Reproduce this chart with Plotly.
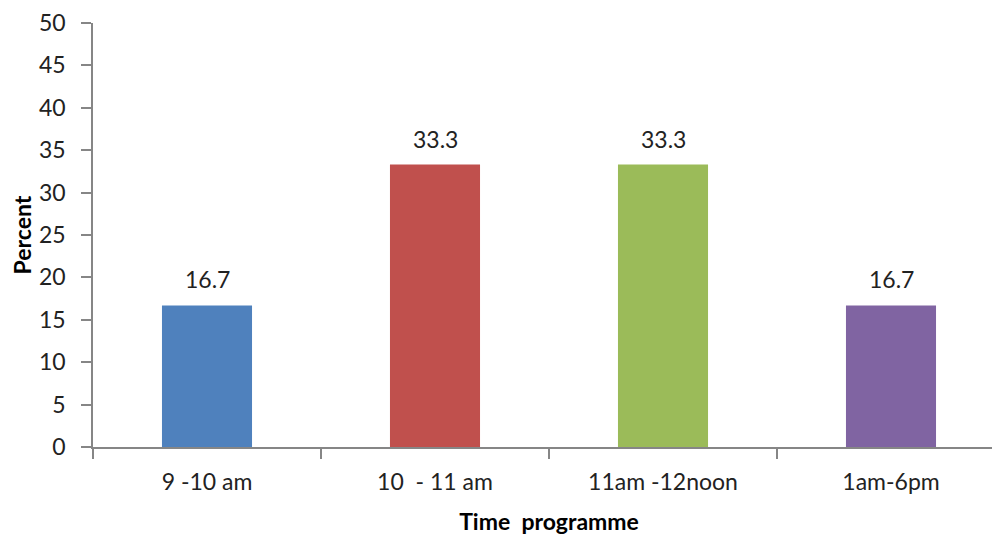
import plotly.graph_objects as go

categories = ["9 -10 am", "10 \u00a0- 11 am", "11am -12noon", "1am-6pm"]
percent = [16.7, 33.3, 33.3, 16.7]
labels = ["16.7", "33.3", "33.3", "16.7"]
colors = ["#4F81BD", "#C0504D", "#9BBB59", "#8064A2"]

FONT = "Lato, Open Sans, sans-serif"
AX = "#868686"
SZ = 23

fig = go.Figure(go.Bar(
    x=categories, y=percent,
    marker=dict(color=colors, line=dict(width=0)),
))

for c, v, t in zip(categories, percent, labels):
    fig.add_annotation(x=c, y=v, text=t, showarrow=False, yanchor="bottom",
                       yshift=10, font=dict(size=SZ, color="#222222", family=FONT))

fig.update_layout(
    width=1000, height=536,
    margin=dict(l=85, r=3, t=15, b=97, autoexpand=False),
    plot_bgcolor="white", paper_bgcolor="white",
    bargap=0.605,
    showlegend=False,
    font=dict(family=FONT, color="#222222"),
)
fig.update_xaxes(
    automargin=False,
    showline=True, linecolor=AX, linewidth=1.5,
    ticks="outside", tickson="boundaries", ticklen=10, tickcolor=AX, tickwidth=1.5,
    ticklabelstandoff=14,
    tickfont=dict(size=SZ, family=FONT, color="#222222"),
    title=dict(text="<b>Time \u00a0programme</b>", font=dict(size=SZ, family=FONT, color="#000000"), standoff=20),
    showgrid=False,
)
fig.update_yaxes(
    automargin=False,
    range=[0, 50], dtick=5, tick0=0,
    showline=True, linecolor=AX, linewidth=1.5,
    ticks="outside", ticklen=10, tickcolor=AX, tickwidth=1.5,
    ticklabelstandoff=11,
    tickfont=dict(size=SZ, family=FONT, color="#222222"),
    title=dict(text="<b>Percent</b>", font=dict(size=SZ, family=FONT, color="#000000"), standoff=15),
    showgrid=False, zeroline=False,
)

fig.write_html("out.html")
